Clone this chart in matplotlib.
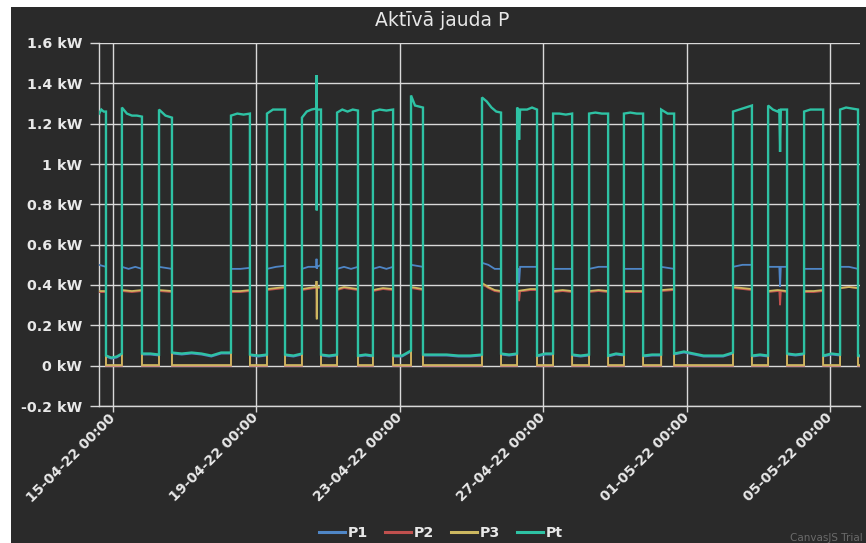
import matplotlib
matplotlib.use("Agg")
import matplotlib.pyplot as plt
import matplotlib.dates as mdates
from matplotlib.patches import Rectangle
import pandas as pd

# ---------------- data ----------------
year = "2022-"
x_min = "04-14 14:40"
x_max = "05-05 20:00"

# periods when the load is switched on
block_start = ["04-14 14:40", "04-15 06:00", "04-16 06:50", "04-18 07:00", "04-19 07:05",
               "04-20 06:30", "04-21 06:00", "04-22 06:00", "04-23 07:30", "04-25 07:00",
               "04-26 06:30", "04-27 06:35", "04-28 06:40", "04-29 06:00", "04-30 06:55",
               "05-02 07:00", "05-03 06:30", "05-04 06:35", "05-05 06:40"]
block_end = ["04-14 19:20", "04-15 19:25", "04-16 15:30", "04-18 19:40", "04-19 19:10",
             "04-20 19:15", "04-21 20:00", "04-22 19:30", "04-23 15:30", "04-25 19:45",
             "04-26 19:50", "04-27 19:20", "04-28 19:25", "04-29 18:50", "04-30 15:35",
             "05-02 19:40", "05-03 19:10", "05-04 19:20", "05-05 18:40"]

# Pt values during each on-period and each following off-period
pt_on = [[1.25, 1.27, 1.26, 1.26], [1.28, 1.25, 1.24, 1.24, 1.235], [1.27, 1.24, 1.23],
         [1.24, 1.25, 1.245, 1.25], [1.25, 1.27, 1.27, 1.27], [1.23, 1.26, 1.27, 1.275, 1.27],
         [1.255, 1.27, 1.26, 1.27, 1.265], [1.26, 1.27, 1.265, 1.27], [1.34, 1.29, 1.285, 1.28],
         [1.33, 1.31, 1.28, 1.26, 1.255], [1.28, 1.27, 1.27, 1.28, 1.27], [1.25, 1.25, 1.245, 1.25],
         [1.25, 1.255, 1.25, 1.25], [1.25, 1.255, 1.25, 1.25], [1.27, 1.25, 1.25],
         [1.26, 1.27, 1.28, 1.29], [1.29, 1.27, 1.26, 1.27, 1.27], [1.26, 1.27, 1.27, 1.27],
         [1.27, 1.28, 1.275, 1.27]]
pt_off = [[0.05, 0.04, 0.045, 0.06], [0.06, 0.06, 0.055],
          [0.065, 0.06, 0.065, 0.06, 0.05, 0.065, 0.065], [0.055, 0.05, 0.055],
          [0.055, 0.05, 0.06], [0.055, 0.05, 0.055], [0.05, 0.055, 0.05], [0.05, 0.05, 0.075],
          [0.055, 0.055, 0.055, 0.05, 0.05, 0.055], [0.06, 0.055, 0.06], [0.05, 0.06, 0.06],
          [0.055, 0.05, 0.055], [0.05, 0.06, 0.055], [0.05, 0.055, 0.055],
          [0.06, 0.07, 0.06, 0.05, 0.05, 0.05, 0.065], [0.05, 0.055, 0.05], [0.06, 0.055, 0.06],
          [0.05, 0.06, 0.055], [0.05, 0.05]]

p1_on = [[0.50, 0.49], [0.49, 0.48, 0.49, 0.48], [0.49, 0.48], [0.48, 0.48, 0.485],
         [0.48, 0.49, 0.495], [0.48, 0.49, 0.49, 0.50], [0.48, 0.49, 0.48, 0.49],
         [0.48, 0.49, 0.48, 0.49], [0.50, 0.49], [0.51, 0.50, 0.48, 0.48],
         [0.48, 0.49, 0.49, 0.49], [0.48, 0.48, 0.48], [0.48, 0.49, 0.49], [0.48, 0.48, 0.48],
         [0.49, 0.48], [0.49, 0.50, 0.50], [0.49, 0.49, 0.49], [0.48, 0.48, 0.48],
         [0.49, 0.49, 0.48]]
p1_off = [[0.045, 0.035, 0.04, 0.055], [0.055, 0.055, 0.05],
          [0.06, 0.055, 0.06, 0.055, 0.045, 0.06, 0.06], [0.05, 0.045, 0.05],
          [0.05, 0.045, 0.055], [0.05, 0.045, 0.05], [0.045, 0.05, 0.045], [0.045, 0.045, 0.07],
          [0.05, 0.05, 0.05, 0.045, 0.045, 0.05], [0.055, 0.05, 0.055], [0.045, 0.055, 0.055],
          [0.05, 0.045, 0.05], [0.045, 0.055, 0.05], [0.045, 0.05, 0.05],
          [0.055, 0.065, 0.055, 0.045, 0.045, 0.045, 0.06], [0.045, 0.05, 0.045],
          [0.055, 0.05, 0.055], [0.045, 0.055, 0.05], [0.045, 0.045]]

p2_on = [[0.365, 0.365], [0.37, 0.365, 0.37], [0.37, 0.365], [0.365, 0.365, 0.37],
         [0.375, 0.38, 0.385], [0.375, 0.38, 0.385, 0.385], [0.375, 0.385, 0.38, 0.375],
         [0.37, 0.38, 0.375], [0.385, 0.375], [0.405, 0.385, 0.37, 0.365],
         [0.365, 0.37, 0.375, 0.375], [0.365, 0.37, 0.365], [0.365, 0.37, 0.365],
         [0.365, 0.365, 0.365], [0.37, 0.375], [0.385, 0.38, 0.375], [0.365, 0.37, 0.365],
         [0.365, 0.365, 0.37], [0.385, 0.39, 0.385]]
p3_on = [[0.37, 0.37], [0.375, 0.37, 0.375], [0.375, 0.37], [0.37, 0.37, 0.375],
         [0.38, 0.385, 0.39], [0.38, 0.385, 0.39, 0.39], [0.38, 0.39, 0.385, 0.38],
         [0.375, 0.385, 0.38], [0.39, 0.38], [0.41, 0.39, 0.375, 0.37],
         [0.37, 0.375, 0.38, 0.38], [0.37, 0.375, 0.37], [0.37, 0.375, 0.37],
         [0.37, 0.37, 0.37], [0.375, 0.38], [0.39, 0.385, 0.38], [0.37, 0.375, 0.37],
         [0.37, 0.37, 0.375], [0.385, 0.39, 0.385]]
p2_off = [[0.0, 0.0] for _ in range(19)]
p3_off = [[0.003, 0.003] for _ in range(19)]

# short spikes / dips inside on-periods
pt_extra_t = ["04-20 16:05", "04-20 16:15", "04-20 16:25", "04-20 16:35",
              "04-26 07:10", "04-26 07:50", "04-26 08:30",
              "05-03 14:00", "05-03 14:30", "05-03 15:00"]
pt_extra_v = [1.27, 1.44, 0.77, 1.27, 1.27, 1.12, 1.27, 1.27, 1.06, 1.27]
p1_extra_t = ["04-20 16:05", "04-20 16:15", "04-20 16:25", "04-20 16:35",
              "04-26 07:10", "04-26 07:50", "04-26 08:30",
              "05-03 14:00", "05-03 14:30", "05-03 15:00"]
p1_extra_v = [0.49, 0.53, 0.48, 0.49, 0.48, 0.41, 0.49, 0.49, 0.39, 0.49]
p2_extra_t = ["04-20 16:05", "04-20 16:15", "04-20 16:25", "04-20 16:35",
              "04-26 07:10", "04-26 07:50", "04-26 08:30",
              "05-03 14:00", "05-03 14:30", "05-03 15:00"]
p2_extra_v = [0.385, 0.41, 0.24, 0.385, 0.365, 0.32, 0.37, 0.37, 0.30, 0.37]
p3_extra_t = ["04-20 16:05", "04-20 16:15", "04-20 16:25", "04-20 16:35"]
p3_extra_v = [0.39, 0.42, 0.23, 0.39]

series_names = ["P1", "P2", "P3", "Pt"]
series_colors = ["#4f86c6", "#c0504e", "#cdb860", "#2ec2a4"]

y_ticks = [-0.2, 0, 0.2, 0.4, 0.6, 0.8, 1.0, 1.2, 1.4, 1.6]
y_tick_labels = ["-0.2 kW", "0 kW", "0.2 kW", "0.4 kW", "0.6 kW", "0.8 kW",
                 "1 kW", "1.2 kW", "1.4 kW", "1.6 kW"]
x_ticks = ["04-15 00:00", "04-19 00:00", "04-23 00:00", "04-27 00:00",
           "05-01 00:00", "05-05 00:00"]
title = "Aktīvā jauda P"


def ts(s):
    return pd.Timestamp(year + s)


def build(on_vals, off_vals, extra_t, extra_v):
    times, vals = [], []
    starts = [ts(s) for s in block_start]
    ends = [ts(s) for s in block_end]
    n = len(starts)
    for i in range(n):
        s, e = starts[i], ends[i]
        if i > 0:
            times.append(s); vals.append(off_vals[i - 1][-1])
        k = len(on_vals[i])
        for j, v in enumerate(on_vals[i]):
            times.append(s + (e - s) * (j / (k - 1))); vals.append(v)
        nxt = starts[i + 1] if i + 1 < n else ts(x_max)
        k = len(off_vals[i])
        times.append(e); vals.append(on_vals[i][-1])
        for j, v in enumerate(off_vals[i]):
            times.append(e + (nxt - e) * (j / (k - 1))); vals.append(v)
    df = pd.DataFrame({"t": times, "v": vals, "o": range(len(times))})
    ex = pd.DataFrame({"t": [ts(s) for s in extra_t], "v": extra_v,
                       "o": [len(times) + 0.5] * len(extra_t)})
    df = pd.concat([df, ex]).sort_values(["t", "o"], kind="stable")
    return df["t"].to_numpy(), df["v"].to_numpy()


data = {
    "P1": build(p1_on, p1_off, p1_extra_t, p1_extra_v),
    "P2": build(p2_on, p2_off, p2_extra_t, p2_extra_v),
    "P3": build(p3_on, p3_off, p3_extra_t, p3_extra_v),
    "Pt": build(pt_on, pt_off, pt_extra_t, pt_extra_v),
}

# ---------------- figure ----------------
W, H = 866, 543
bg = "#2a2a2a"
grid_c = "#d9d9d9"
txt_c = "#e8e8e8"
fig = plt.figure(figsize=(W / 100, H / 100), dpi=100)
fig.patch.set_facecolor("white")
fig.patches.append(Rectangle((11 / W, 0), 1 - 11 / W, 1 - 7 / H, transform=fig.transFigure,
                             facecolor=bg, edgecolor="none", zorder=-10))

ax = fig.add_axes([99 / W, 1 - 406 / H, (860 - 99) / W, (406 - 43) / H])
ax.set_facecolor(bg)

widths = {"P1": 1.3, "P2": 1.3, "P3": 1.3, "Pt": 1.7}
for name, color in zip(series_names, series_colors):
    t, v = data[name]
    ax.plot(t, v, color=color, lw=widths[name], label=name, zorder=3,
            solid_joinstyle="miter")

ax.set_xlim(ts(x_min), ts(x_max))
ax.set_ylim(-0.2, 1.6)
ax.set_yticks(y_ticks)
ax.set_yticklabels(y_tick_labels)
ax.set_xticks([ts(s) for s in x_ticks])
ax.xaxis.set_major_formatter(mdates.DateFormatter("%d-%m-%y %H:%M"))

ax.grid(True, color=grid_c, lw=1.0, zorder=1)
for sp in ["top", "right"]:
    ax.spines[sp].set_visible(False)
for sp in ["left", "bottom"]:
    ax.spines[sp].set_color(grid_c)
    ax.spines[sp].set_linewidth(1.0)

ax.tick_params(axis="y", length=6.5, width=1.0, color=grid_c, pad=5.5,
               labelsize=10.3, labelcolor=txt_c)
ax.tick_params(axis="x", length=4.5, width=1.0, color=grid_c, pad=2.5,
               labelsize=10.0, labelcolor=txt_c)
for lab in ax.get_yticklabels():
    lab.set_fontweight("bold")
for lab in ax.get_xticklabels():
    lab.set_fontweight("bold")
    lab.set_rotation(45)
    lab.set_ha("right")
    lab.set_va("center")
    lab.set_rotation_mode("anchor")

fig.text(442 / W, 1 - 20 / H, title, ha="center", va="center", color=txt_c,
         fontsize=13.5, family="DejaVu Sans")

leg = fig.legend(loc="center", bbox_to_anchor=(441 / W, 1 - 533 / H), ncol=4,
                 frameon=False, handlelength=1.8, handletextpad=0.2, columnspacing=1.2,
                 prop={"weight": "bold", "size": 10.3})
for txt in leg.get_texts():
    txt.set_color(txt_c)
for line in leg.get_lines():
    line.set_linewidth(2.2)

fig.text(863 / W, 1 - 538 / H, "CanvasJS Trial", ha="right", va="center",
         color="#6a6a6a", fontsize=7.5)

fig.savefig("out.png", dpi=100, facecolor=fig.get_facecolor())
